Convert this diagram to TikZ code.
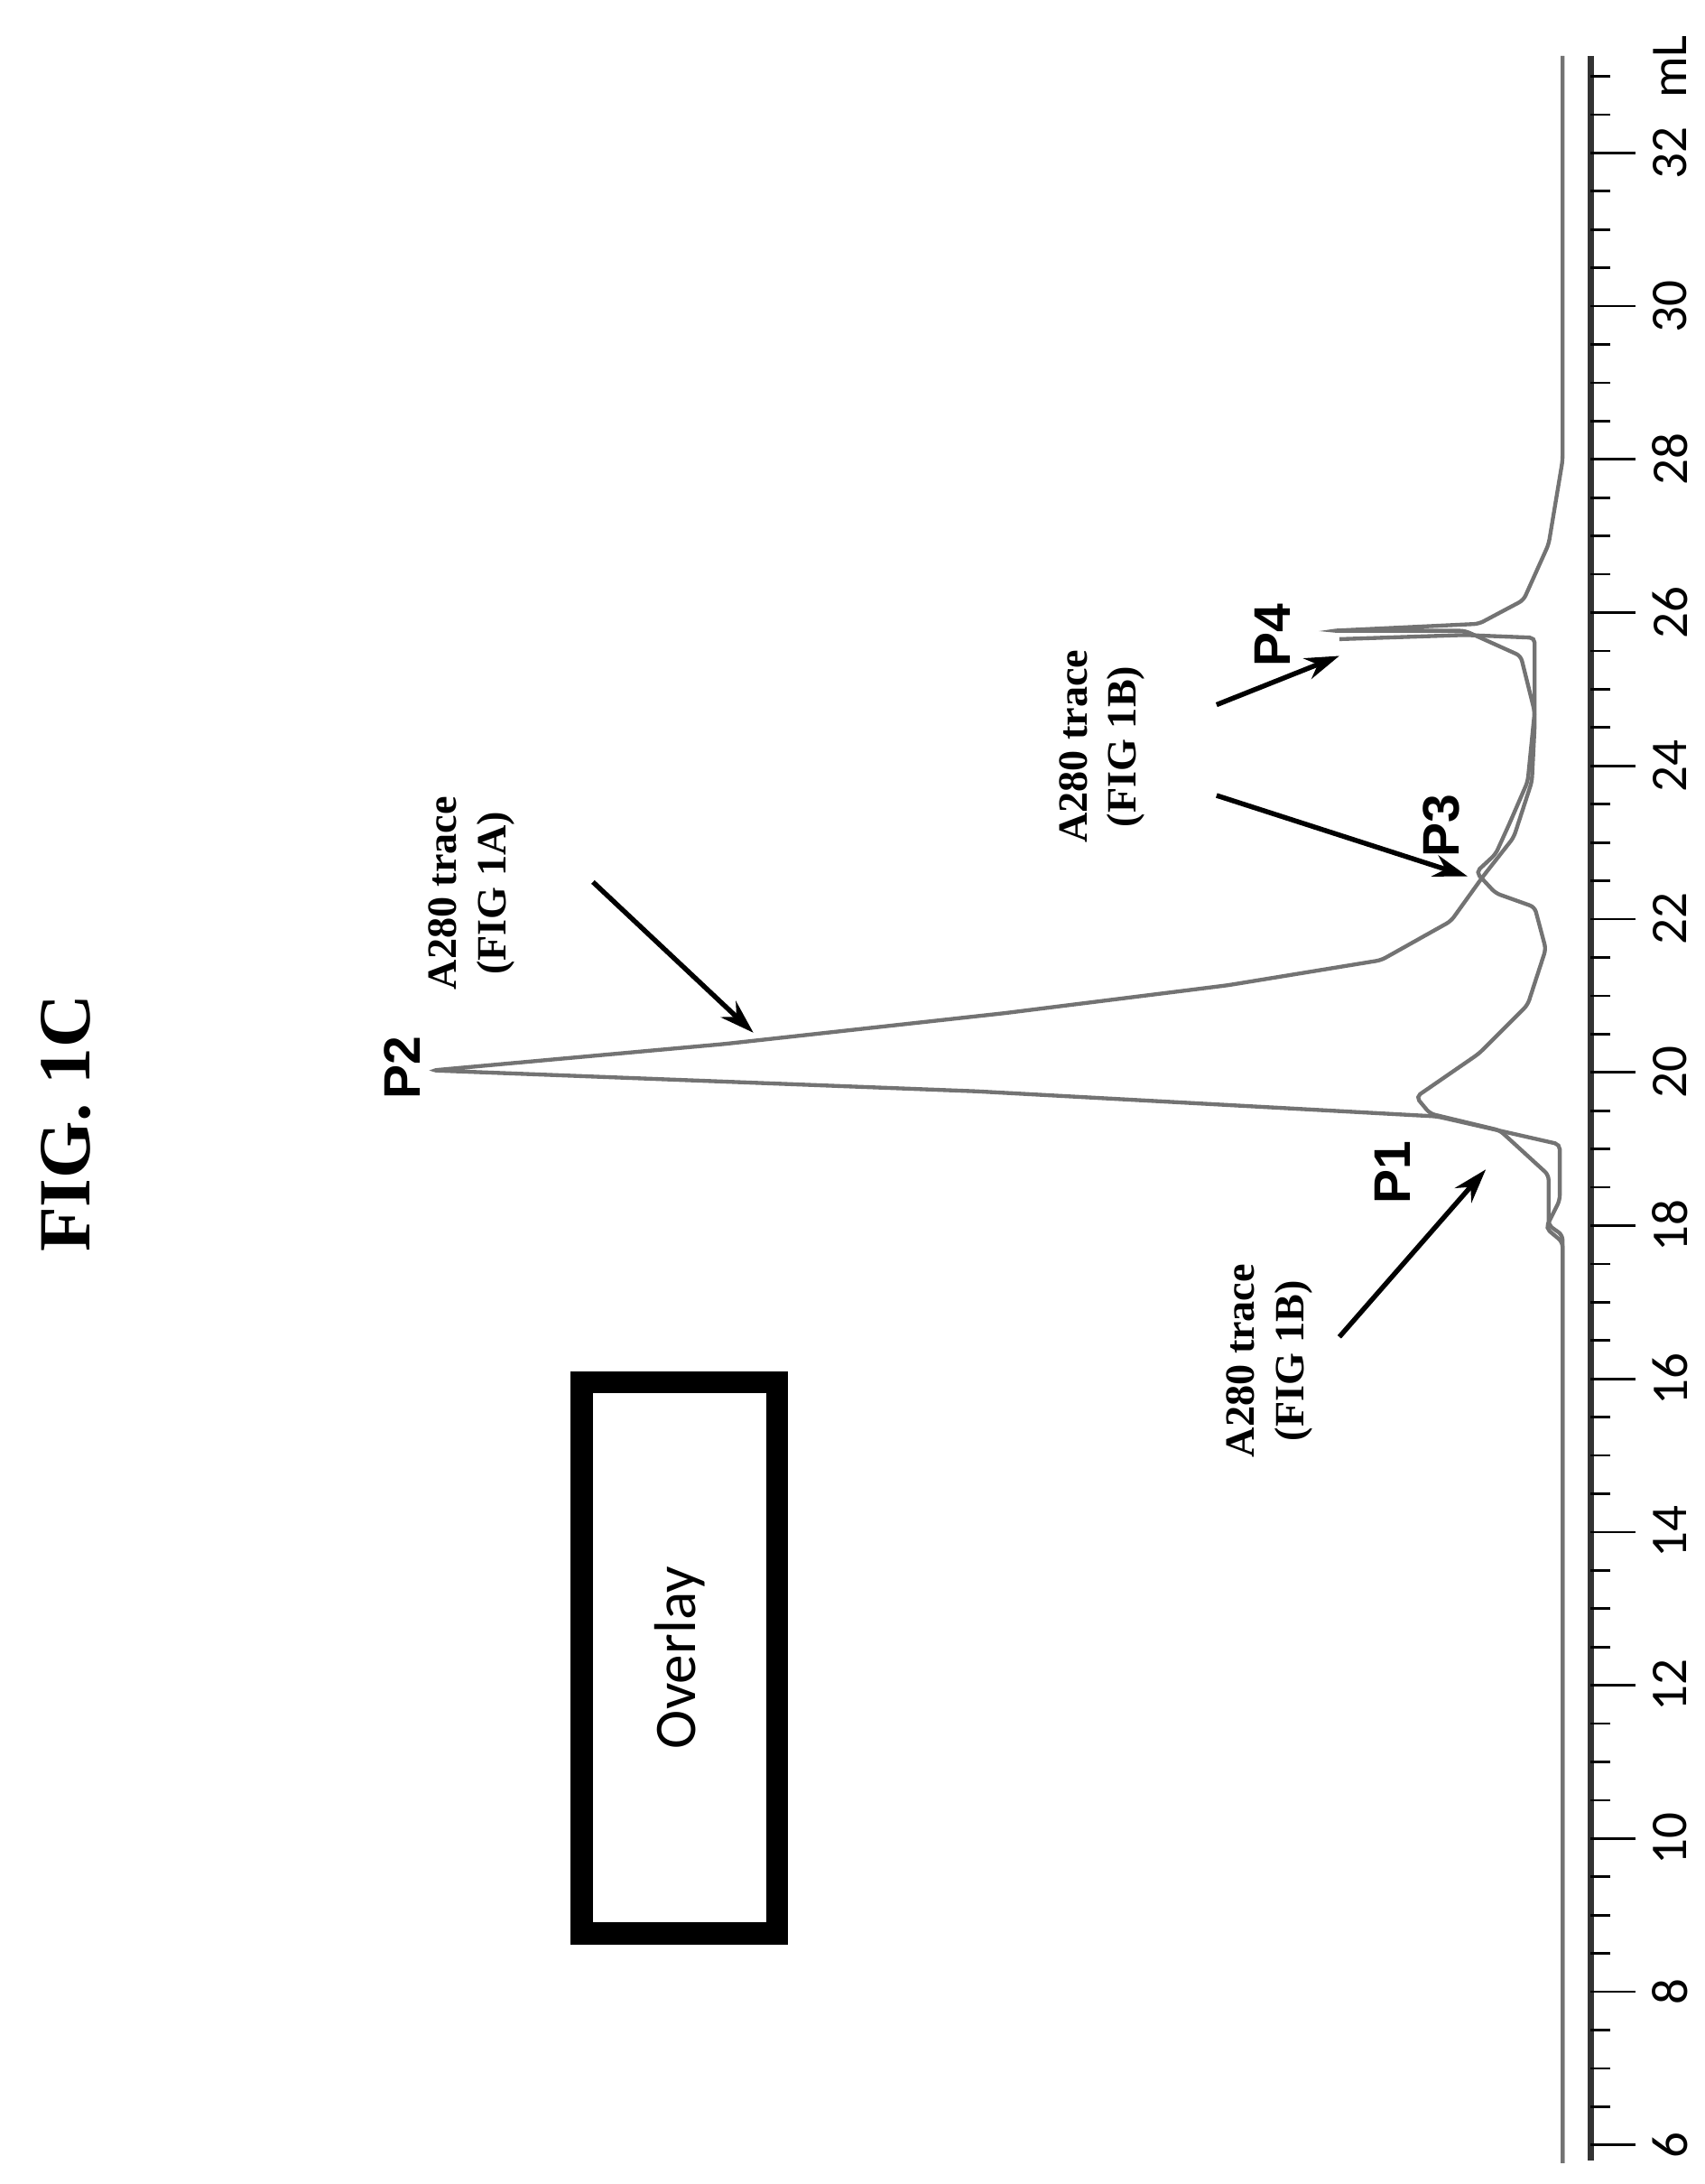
\documentclass[tikz,border=0pt]{standalone}
\usepackage{fontspec}
\setmainfont{Liberation Serif}
\setsansfont{Carlito}
\newfontfamily\labfont{Liberation Sans}
\usetikzlibrary{arrows.meta}
\tikzset{trace/.style={draw=black!55,line width=1.6pt,rounded corners=2pt}}
\tikzset{pointer/.style={-{Stealth[length=14pt,width=9pt]},line width=2pt}}
\tikzset{peak/.style={rotate=90,font=\labfont\bfseries\fontsize{21}{24}\selectfont}}
\tikzset{note/.style={rotate=90,align=center,font=\bfseries\fontsize{17}{20}\selectfont}}
\tikzset{tick/.style={rotate=90,font=\sffamily\fontsize{21}{24}\selectfont}}

\begin{document}
\begin{tikzpicture}[x=0.02cm,y=-0.02cm]
\useasboundingbox (0,0) rectangle (1222,1565);

\node[rotate=90,font=\bfseries\fontsize{30}{34}\selectfont] (title) at (47,805) {FIG. 1C};

% axis
\coordinate (axtop) at (1140,40);
\coordinate (axbot) at (1140,1548);
\draw[line width=2.5pt,black!80] (axtop) -- (axbot);
\foreach \v in {6,6.5,...,33}
  \draw[line width=1pt] (1140,{1537-(\v-6)*54.9}) -- ++(14,0);
\foreach \v in {6,8,...,32}{
  \draw[line width=1pt] (1140,{1537-(\v-6)*54.9}) -- ++(32,0);
  \node[tick] (t\v) at (1197,{1537-(\v-6)*54.9}) {\v};
}
\node[tick] (unit) at (1197,48) {mL};

% traces
\draw[trace] (1120,1550) -- (1120,890) -- (1108,880) -- (1118,860) -- (1118,820)
  -- (1030,800) -- (700,782) -- (310,767) -- (520,748) -- (720,726) -- (880,706)
  -- (990,688) -- (1040,660) -- (1063,628) -- (1085,600) -- (1098,560) -- (1100,520)
  -- (1100,457) -- (1050,455) -- (960,458);
\draw[trace] (1120,1550) -- (1120,885) -- (1110,878) -- (1110,842) -- (1075,810)
  -- (1025,798) -- (1015,786) -- (1060,755) -- (1095,720) -- (1108,680) -- (1100,650)
  -- (1072,640) -- (1058,625) -- (1072,612) -- (1082,590) -- (1095,560) -- (1100,510)
  -- (1090,470) -- (1050,452) -- (955,452) -- (1060,447) -- (1092,430) -- (1110,390)
  -- (1120,330) -- (1120,40);

% labels and pointers
\node[peak] (P1) at (998,840) {P1};
\node[peak] (P2) at (288,765) {P2};
\node[peak] (P3) at (1033,592) {P3};
\node[peak] (P4) at (912,455) {P4};
\node[note] (noteA) at (338,640) {A280 trace\\(FIG 1A)};
\node[note] (noteB) at (790,535) {A280 trace\\(FIG 1B)};
\node[note] (noteC) at (910,975) {A280 trace\\(FIG 1B)};
\coordinate (tipA) at (540,740);
\coordinate (tipP1) at (1065,838);
\coordinate (tipP3) at (1052,628);
\coordinate (tipP4) at (960,470);
\draw[pointer] (425,632) -- (tipA);
\draw[pointer] (960,958) -- (tipP1);
\draw[pointer] (872,570) -- (tipP3);
\draw[pointer] (872,505) -- (tipP4);

% overlay box
\node[draw,line width=9pt,minimum width=7.9cm,minimum height=2.8cm,rotate=90,
  font=\sffamily\fontsize{24}{28}\selectfont] (overlay) at (487,1188) {Overlay};
\end{tikzpicture}
\end{document}
